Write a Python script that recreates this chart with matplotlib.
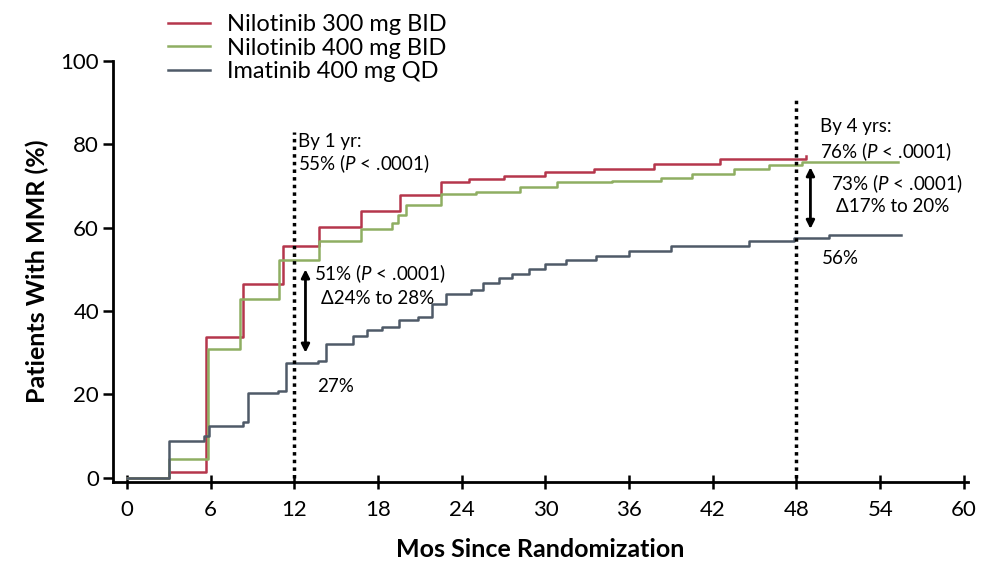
import matplotlib
matplotlib.use("Agg")
import matplotlib.pyplot as plt

plt.rcParams['font.family'] = ['Lato', 'DejaVu Sans']
plt.rcParams['mathtext.fontset'] = 'custom'
plt.rcParams['mathtext.rm'] = 'Lato'
plt.rcParams['mathtext.it'] = 'Lato:italic'

# ---- data ----
series_names = ["Nilotinib 300 mg BID", "Nilotinib 400 mg BID", "Imatinib 400 mg QD"]

nilo300_months = [0, 3.0, 5.7, 8.3, 11.2, 13.8, 16.8, 19.6, 22.5, 24.5, 27.0, 30.0, 33.5, 37.8, 42.5, 48.7]
nilo300_values = [0, 1.5, 33.7, 46.5, 55.5, 60.2, 64.0, 67.9, 71.0, 71.7, 72.5, 73.3, 74.0, 75.2, 76.5, 77.3]

nilo400_months = [0, 3.0, 5.8, 8.1, 10.9, 13.8, 16.8, 19.0, 19.4, 20.0, 22.5, 25.0, 28.2, 30.8,
                  34.8, 38.3, 40.5, 43.5, 46.0, 48.4, 55.3]
nilo400_values = [0, 4.5, 31.0, 43.0, 52.3, 56.8, 59.6, 61.0, 63.0, 65.5, 68.0, 68.5, 69.8, 71.0,
                  71.2, 71.8, 72.8, 74.0, 75.0, 75.8, 75.8]

ima_months = [0, 3.0, 5.5, 5.9, 8.3, 8.7, 10.8, 11.4, 13.7, 14.3, 16.2, 17.2, 18.3, 19.5, 20.9,
              21.9, 22.9, 24.7, 25.5, 26.7, 27.6, 28.8, 30.0, 31.5, 33.6, 36.0, 39.0, 44.6, 47.8,
              50.3, 55.5]
ima_values = [0, 8.8, 10.0, 12.4, 13.3, 20.4, 20.7, 27.5, 28.0, 32.0, 34.0, 35.4, 36.2, 37.8, 38.5,
              41.8, 44.0, 45.0, 46.8, 48.0, 48.8, 50.0, 51.3, 52.3, 53.2, 54.3, 55.6, 56.8, 57.5,
              58.2, 58.2]

x_ticks = [0, 6, 12, 18, 24, 30, 36, 42, 48, 54, 60]
y_ticks = [0, 20, 40, 60, 80, 100]

colors = ["#b5364c", "#8fae62", "#4f5a68"]

fig = plt.figure(figsize=(9.84, 5.67), dpi=100)
ax = fig.add_axes([0.1148, 0.150, 0.869, 0.7426])

lines = []
for m, v, c, name in zip([nilo300_months, nilo400_months, ima_months],
                         [nilo300_values, nilo400_values, ima_values],
                         colors, series_names):
    ln, = ax.plot(m, v, drawstyle='steps-post', color=c, lw=1.8, label=name)
    lines.append(ln)

ax.set_xlim(-1, 60.3)
ax.set_ylim(-1, 100)
ax.set_xticks(x_ticks)
ax.set_yticks(y_ticks)
for s in ['top', 'right']:
    ax.spines[s].set_visible(False)
for s in ['left', 'bottom']:
    ax.spines[s].set_linewidth(2.0)
ax.tick_params(axis='y', direction='out', length=7, width=1.8, labelsize=16, pad=3)
ax.tick_params(axis='x', direction='inout', length=10, width=1.8, labelsize=16, pad=8)

ax.set_xlabel("Mos Since Randomization", fontsize=18, fontweight='bold', labelpad=13)
ax.set_ylabel("Patients With MMR (%)", fontsize=18, fontweight='bold', labelpad=8)

# dotted reference lines
ax.plot([12, 12], [0, 83], color='black', lw=2.5, linestyle=(0, (1, 1.2)))
ax.plot([48, 48], [0, 91], color='black', lw=2.5, linestyle=(0, (1, 1.2)))

arrow_kw = dict(arrowstyle='<|-|>', color='black', lw=2.0, mutation_scale=12, shrinkA=0, shrinkB=0)
ax.annotate('', xy=(12.8, 50), xytext=(12.8, 30), arrowprops=arrow_kw)
ax.annotate('', xy=(49.0, 74.5), xytext=(49.0, 59.7), arrowprops=arrow_kw)

fs = 13.5
ax.text(12.3, 80.6, "By 1 yr:", fontsize=fs, va='center', ha='left')
ax.text(12.3, 75.3, r"55% ($\mathit{P}$ < .0001)", fontsize=fs, va='center', ha='left')
ax.text(13.4, 48.9, r"51% ($\mathit{P}$ < .0001)", fontsize=fs, va='center', ha='left')
ax.text(13.9, 43.0, "Δ24% to 28%", fontsize=fs, va='center', ha='left')
ax.text(13.6, 21.8, "27%", fontsize=fs, va='center', ha='left')

ax.text(49.7, 84.2, "By 4 yrs:", fontsize=fs, va='center', ha='left')
ax.text(49.7, 78.2, r"76% ($\mathit{P}$ < .0001)", fontsize=fs, va='center', ha='left')
ax.text(50.5, 70.5, r"73% ($\mathit{P}$ < .0001)", fontsize=fs, va='center', ha='left')
ax.text(50.8, 65.0, "Δ17% to 20%", fontsize=fs, va='center', ha='left')
ax.text(49.8, 52.5, "56%", fontsize=fs, va='center', ha='left')

fig.legend(handles=lines, loc='upper left', bbox_to_anchor=(0.1515, 1.008), frameon=False,
           fontsize=17, handlelength=1.78, handletextpad=0.72, labelspacing=0.1, borderpad=0.3)

fig.savefig("out.png", dpi=100)
